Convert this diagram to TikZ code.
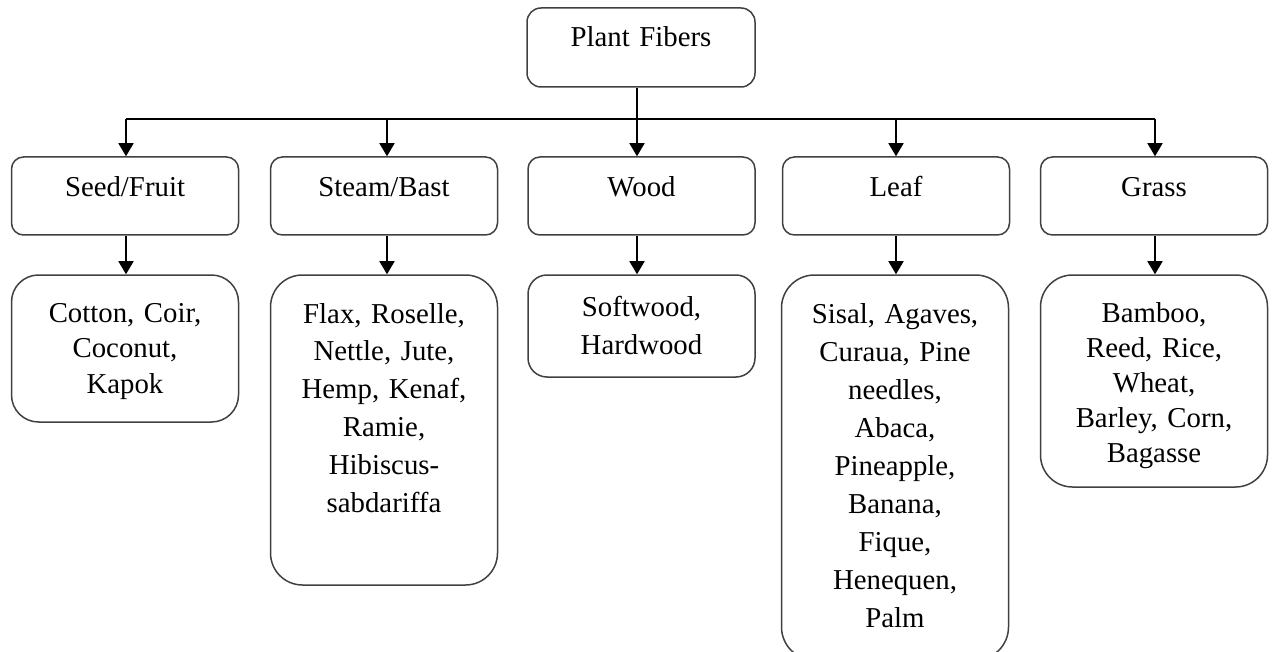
\documentclass[tikz,border=0pt]{standalone}
\usepackage{fontspec}
\setmainfont{Liberation Serif}
\usetikzlibrary{arrows.meta}

\tikzset{
  box/.style={draw=black!75, line width=1.5pt, inner sep=0pt, minimum width=227pt, fill=white},
  txt/.style={inner sep=0pt, anchor=base, align=center, text width=215pt},
  conn/.style={draw=black, line width=1.6pt},
  arr/.style={conn, -{Triangle[length=13pt,width=15pt]}},
}

\newcommand{\txtfont}[1]{\fontsize{28.8}{#1}\selectfont}

\begin{document}
\begin{tikzpicture}[x=1pt, y=-1pt]
\useasboundingbox (0,0) rectangle (1276,652);

% root
\node[box, rounded corners=14pt, minimum width=228pt, minimum height=79pt] (pf) at (641,47.5) {};
\node[txt, font=\txtfont{36}] (pfT) at (641,47) {Plant Fibers};

% category boxes
\foreach \n/\x in {seed/125, steam/384, wood/641.5, leaf/896, grass/1154}
  \node[box, rounded corners=12pt, minimum height=78pt] (\n) at (\x,196) {};

\node[txt, font=\txtfont{36}] (seedT)  at (125,197)   {Seed/Fruit};
\node[txt, font=\txtfont{36}] (steamT) at (384,197)   {Steam/Bast};
\node[txt, font=\txtfont{36}] (woodT)  at (641.5,197) {Wood};
\node[txt, font=\txtfont{36}] (leafT)  at (896,197)   {Leaf};
\node[txt, font=\txtfont{36}] (grassT) at (1154,197)  {Grass};

% member boxes
\node[box, rounded corners=27pt, minimum height=147pt] (seedL)  at (125,348.5) {};
\node[box, rounded corners=32pt, minimum height=310pt] (steamL) at (384,430) {};
\node[box, rounded corners=19pt, minimum height=102pt] (woodL)  at (641.5,326) {};
\node[box, rounded corners=33pt, minimum height=385pt] (leafL)  at (895,467.5) {};
\node[box, rounded corners=32pt, minimum height=212pt] (grassL) at (1154,381) {};

\node[txt, font=\txtfont{35.5}] (seedLT) at (125,322)
  {Cotton, Coir,\\Coconut,\\Kapok};
\node[txt, font=\txtfont{37.8}] (steamLT) at (384,323)
  {Flax, Roselle,\\Nettle, Jute,\\Hemp, Kenaf,\\Ramie,\\Hibiscus-\\sabdariffa};
\node[txt, font=\txtfont{38}] (woodLT) at (641.5,316)
  {Softwood,\\Hardwood};
\node[txt, font=\txtfont{38.1}] (leafLT) at (895,323)
  {Sisal, Agaves,\\Curaua, Pine\\needles,\\Abaca,\\Pineapple,\\Banana,\\Fique,\\Henequen,\\Palm};
\node[txt, font=\txtfont{35}] (grassLT) at (1154,322)
  {Bamboo,\\Reed, Rice,\\Wheat,\\Barley, Corn,\\Bagasse};

% branch points on the bus line
\coordinate (bSeed)  at (126,119);
\coordinate (bSteam) at (387,119);
\coordinate (bWood)  at (637,119);
\coordinate (bLeaf)  at (896,119);
\coordinate (bGrass) at (1155,119);

% bus and trunk
\draw[conn] (bSeed) -- (bGrass);
\draw[arr] (pf.south -| bWood) -- (wood.north -| bWood);

% drops to the categories
\draw[arr] (bSeed)  -- (seed.north -| bSeed);
\draw[arr] (bSteam) -- (steam.north -| bSteam);
\draw[arr] (bLeaf)  -- (leaf.north -| bLeaf);
\draw[arr] (bGrass) -- (grass.north -| bGrass);

% categories to their members
\draw[arr] (seed.south -| bSeed)   -- (seedL.north -| bSeed);
\draw[arr] (steam.south -| bSteam) -- (steamL.north -| bSteam);
\draw[arr] (wood.south -| bWood)   -- (woodL.north -| bWood);
\draw[arr] (leaf.south -| bLeaf)   -- (leafL.north -| bLeaf);
\draw[arr] (grass.south -| bGrass) -- (grassL.north -| bGrass);
\end{tikzpicture}
\end{document}
